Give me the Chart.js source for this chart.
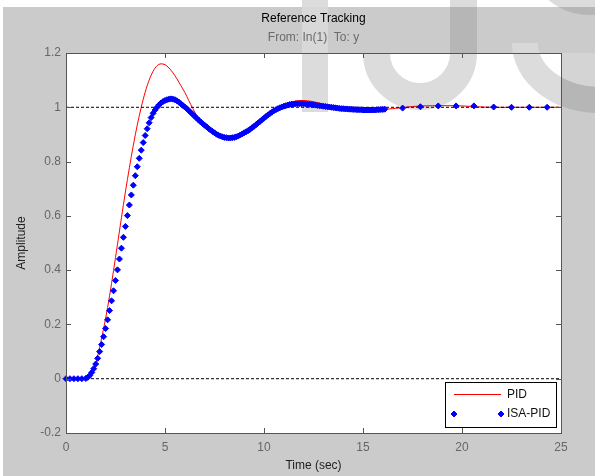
<!DOCTYPE html>
<html><head><meta charset="utf-8">
<script src="https://cdn.jsdelivr.net/npm/chart.js@4/dist/chart.umd.min.js"></script>
<style>html,body{margin:0;padding:0;background:#fff}canvas{display:block}</style>
</head><body>
<canvas id="c" width="595" height="476"></canvas>
<script>
const titleText = "Reference Tracking";
const subtitleText = "From: In(1)  To: y";
const xTitle = "Time (sec)";
const yTitle = "Amplitude";
const seriesNames = ["PID", "ISA-PID"];
const xTicks = [0, 5, 10, 15, 20, 25];
const yTicks = [-0.2, 0, 0.2, 0.4, 0.6, 0.8, 1, 1.2];
const refLevels = [0, 1];

const pidT = [0, 0.5, 1.0, 1.2, 1.4, 1.6, 1.8, 2.0, 2.2, 2.4, 2.6, 2.8, 3.0, 3.2, 3.4, 3.6, 3.8, 4.0, 4.2, 4.4, 4.6, 4.8, 5.0, 5.2, 5.4, 5.6, 5.8, 6.0, 6.2, 6.4, 6.6, 6.8, 7.0, 7.2, 7.4, 7.6, 7.8, 8.0, 8.2, 8.4, 8.6, 8.8, 9.0, 9.2, 9.4, 9.6, 9.8, 10.0, 10.2, 10.4, 10.6, 10.8, 11.0, 11.2, 11.4, 11.6, 11.8, 12.0, 12.2, 12.4, 12.6, 12.8, 13.0, 13.4, 13.8, 14.2, 14.6, 15.0, 15.5, 16.0, 16.5, 17.0, 17.5, 18.0, 19.0, 20.0, 20.5, 21.0, 22.0, 25.0];
const pidY = [0, 0, 0.001, 0.008, 0.035, 0.085, 0.15, 0.222, 0.305, 0.398, 0.495, 0.593, 0.688, 0.777, 0.86, 0.935, 1.0, 1.056, 1.1, 1.133, 1.153, 1.16, 1.157, 1.145, 1.127, 1.105, 1.08, 1.055, 1.025, 0.996, 0.97, 0.948, 0.93, 0.915, 0.903, 0.894, 0.888, 0.885, 0.885, 0.887, 0.891, 0.897, 0.905, 0.914, 0.925, 0.937, 0.949, 0.961, 0.973, 0.984, 0.994, 1.003, 1.01, 1.016, 1.02, 1.023, 1.025, 1.025, 1.024, 1.022, 1.019, 1.015, 1.011, 1.004, 0.998, 0.994, 0.992, 0.991, 0.991, 0.992, 0.995, 0.999, 1.003, 1.005, 1.006, 1.005, 1.003, 1.001, 1.0, 1.0];

const isaT = [0, 0.2, 0.4, 0.6, 0.8, 1.0, 1.1, 1.2, 1.3, 1.4, 1.5, 1.6, 1.7, 1.8, 1.9, 2.0, 2.1, 2.2, 2.3, 2.4, 2.5, 2.6, 2.7, 2.8, 2.9, 3.0, 3.1, 3.2, 3.3, 3.4, 3.5, 3.6, 3.7, 3.8, 3.9, 4.0, 4.1, 4.2, 4.3, 4.4, 4.5, 4.6, 4.7, 4.8, 4.9, 5.0, 5.1, 5.2, 5.3, 5.4, 5.5, 5.6, 5.7, 5.8, 5.9, 6.0, 6.1, 6.2, 6.3, 6.4, 6.5, 6.6, 6.7, 6.8, 6.9, 7.0, 7.1, 7.2, 7.3, 7.4, 7.5, 7.6, 7.7, 7.8, 7.9, 8.0, 8.1, 8.2, 8.3, 8.4, 8.5, 8.6, 8.7, 8.8, 8.9, 9.0, 9.1, 9.2, 9.3, 9.4, 9.5, 9.6, 9.7, 9.8, 9.9, 10.0, 10.1, 10.2, 10.3, 10.4, 10.5, 10.6, 10.7, 10.8, 10.9, 11.0, 11.1, 11.2, 11.3, 11.4, 11.5, 11.6, 11.7, 11.8, 11.9, 12.0, 12.1, 12.2, 12.3, 12.4, 12.5, 12.6, 12.7, 12.8, 12.9, 13.0, 13.1, 13.2, 13.3, 13.4, 13.5, 13.6, 13.7, 13.8, 13.9, 14.0, 14.1, 14.2, 14.3, 14.4, 14.5, 14.6, 14.7, 14.8, 14.9, 15.0, 15.1, 15.2, 15.3, 15.4, 15.5, 15.6, 15.7, 15.8, 15.9, 16.0, 16.1, 17.0, 17.9, 18.8, 19.7, 20.6, 21.6, 22.5, 23.4, 24.3];
const isaY = [0, 0, 0, 0, 0, 0.001, 0.005, 0.012, 0.023, 0.037, 0.054, 0.075, 0.1, 0.126, 0.155, 0.185, 0.217, 0.251, 0.287, 0.324, 0.362, 0.401, 0.441, 0.481, 0.521, 0.561, 0.601, 0.64, 0.677, 0.713, 0.748, 0.781, 0.812, 0.842, 0.87, 0.896, 0.921, 0.943, 0.962, 0.978, 0.99, 1.0, 1.009, 1.016, 1.021, 1.025, 1.028, 1.03, 1.031, 1.03, 1.028, 1.024, 1.019, 1.013, 1.007, 1.001, 0.995, 0.988, 0.981, 0.974, 0.967, 0.96, 0.953, 0.946, 0.94, 0.934, 0.928, 0.922, 0.916, 0.911, 0.906, 0.901, 0.897, 0.894, 0.891, 0.889, 0.888, 0.887, 0.887, 0.888, 0.889, 0.891, 0.894, 0.898, 0.902, 0.906, 0.91, 0.914, 0.919, 0.925, 0.93, 0.936, 0.942, 0.948, 0.954, 0.96, 0.966, 0.972, 0.977, 0.982, 0.987, 0.991, 0.995, 0.998, 1.001, 1.004, 1.006, 1.008, 1.01, 1.011, 1.012, 1.013, 1.013, 1.013, 1.013, 1.013, 1.012, 1.012, 1.011, 1.01, 1.009, 1.008, 1.007, 1.006, 1.005, 1.004, 1.003, 1.002, 1.001, 1.0, 0.999, 0.998, 0.997, 0.996, 0.995, 0.995, 0.994, 0.994, 0.993, 0.993, 0.992, 0.992, 0.991, 0.991, 0.991, 0.99, 0.99, 0.99, 0.99, 0.99, 0.99, 0.99, 0.991, 0.991, 0.992, 0.992, 0.993, 0.997, 1.002, 1.005, 1.005, 1.005, 1.001, 1.0, 1.0, 1.0];

const FONT = "'Liberation Sans', Arial, Helvetica, sans-serif";
const GRAY_BG = '#cbcbcb';

function toXY(ts, ys) { return ts.map((t, i) => ({ x: t, y: ys[i] })); }

function diamond(ctx, x, y, r) {
  ctx.beginPath();
  ctx.moveTo(x, y - r); ctx.lineTo(x + r, y); ctx.lineTo(x, y + r); ctx.lineTo(x - r, y); ctx.closePath();
  ctx.fill(); ctx.stroke();
}

function drawWatermark(ctx, ca) {
  const W = ctx.canvas.width, H = ctx.canvas.height;
  const caW = ca.right - ca.left, caH = ca.bottom - ca.top;
  ctx.save();
  ctx.beginPath();
  ctx.rect(0, 0, W, 7); ctx.rect(0, 0, 3, H); ctx.rect(ca.left, ca.top, caW, caH);
  ctx.clip();
  ctx.fillStyle = '#dcdcdc'; ctx.strokeStyle = '#dcdcdc';
  ctx.fillRect(302, 0, 26, 112);
  ctx.fillRect(450, 0, 27, 54);
  ctx.lineWidth = 27; ctx.beginPath(); ctx.arc(420, 53, 43.5, 0, Math.PI); ctx.stroke();
  ctx.lineWidth = 26; ctx.beginPath(); ctx.ellipse(600, 43, 75, 57, 0, Math.PI / 2, Math.PI); ctx.stroke();
  ctx.beginPath(); ctx.arc(590, -50, 52, 0, 2 * Math.PI); ctx.stroke();
  ctx.restore();
  ctx.save();
  ctx.beginPath();
  ctx.rect(3, 7, W - 3, H - 7); ctx.rect(ca.left, ca.top, caW, caH);
  ctx.clip('evenodd');
  ctx.fillStyle = '#d8d8d8';
  ctx.fillRect(302, 0, 26, 112);
  ctx.fillStyle = '#b6b6b6';
  ctx.fillRect(450, 0, 27, 53);
  ctx.strokeStyle = '#b6b6b6'; ctx.lineWidth = 26;
  ctx.beginPath(); ctx.arc(590, -50, 52, 0, 2 * Math.PI); ctx.stroke();
  ctx.save();
  ctx.beginPath(); ctx.rect(0, 0, W, ca.top); ctx.clip();
  ctx.strokeStyle = '#d8d8d8';
  ctx.beginPath(); ctx.ellipse(600, 43, 75, 57, 0, Math.PI / 2, Math.PI); ctx.stroke();
  ctx.restore();
  ctx.save();
  ctx.beginPath(); ctx.rect(ca.right, ca.top, W - ca.right, H); ctx.clip();
  ctx.fillStyle = '#d4d4d4';
  ctx.beginPath(); ctx.ellipse(600, 43, 62, 44, 0, 0, 2 * Math.PI); ctx.fill();
  ctx.strokeStyle = '#b6b6b6';
  ctx.beginPath(); ctx.ellipse(600, 43, 75, 57, 0, Math.PI / 2, Math.PI); ctx.stroke();
  ctx.restore();
  ctx.restore();
}

const decor = {
  id: 'decor',
  beforeDraw(chart) {
    const ctx = chart.ctx, ca = chart.chartArea;
    const W = chart.width, H = chart.height;
    ctx.save();
    ctx.fillStyle = '#ffffff'; ctx.fillRect(0, 0, W, H);
    ctx.fillStyle = GRAY_BG; ctx.fillRect(3, 7, W - 3, H - 7);
    ctx.fillStyle = '#ffffff'; ctx.fillRect(ca.left, ca.top, ca.right - ca.left, ca.bottom - ca.top);
    drawWatermark(ctx, ca);
    ctx.restore();
  },
  afterDatasetsDraw(chart) {
    const ctx = chart.ctx, ca = chart.chartArea;
    const xs = chart.scales.x, ys = chart.scales.y;
    ctx.save();
    ctx.strokeStyle = '#555555'; ctx.lineWidth = 1;
    ctx.beginPath();
    xTicks.forEach(v => {
      const px = Math.round(xs.getPixelForValue(v)) + 0.5;
      ctx.moveTo(px, ca.bottom); ctx.lineTo(px, ca.bottom - 5);
      ctx.moveTo(px, ca.top); ctx.lineTo(px, ca.top + 5);
    });
    yTicks.forEach(v => {
      const py = Math.round(ys.getPixelForValue(v)) + 0.5;
      ctx.moveTo(ca.left, py); ctx.lineTo(ca.left + 5, py);
      ctx.moveTo(ca.right, py); ctx.lineTo(ca.right - 5, py);
    });
    ctx.stroke();
    ctx.strokeRect(Math.round(ca.left) + 0.5, Math.round(ca.top) + 0.5, Math.round(ca.right - ca.left), Math.round(ca.bottom - ca.top));
    ctx.restore();
  },
  afterDraw(chart) {
    const ctx = chart.ctx, ca = chart.chartArea;
    const cx = (ca.left + ca.right) / 2;
    ctx.save();
    ctx.textAlign = 'center'; ctx.textBaseline = 'middle';
    ctx.font = '12px ' + FONT; ctx.fillStyle = '#000000';
    ctx.fillText(titleText, cx, 19);
    ctx.fillStyle = '#6b6b6b';
    ctx.fillText(subtitleText, cx, 38);
    ctx.fillStyle = '#222222';
    ctx.fillText(xTitle, cx, 466);
    ctx.save();
    ctx.translate(22, (ca.top + ca.bottom) / 2);
    ctx.rotate(-Math.PI / 2);
    ctx.fillText(yTitle, 0, 0);
    ctx.restore();
    const bw = 111, bh = 45;
    const bx = Math.round(ca.right - 5 - bw), by = Math.round(ca.bottom - 6 - bh);
    ctx.fillStyle = '#ffffff'; ctx.fillRect(bx, by, bw, bh);
    ctx.strokeStyle = '#000000'; ctx.lineWidth = 1;
    ctx.strokeRect(bx + 0.5, by + 0.5, bw, bh);
    ctx.strokeStyle = '#ff0000';
    ctx.beginPath(); ctx.moveTo(bx + 9, by + 12.5); ctx.lineTo(bx + 56, by + 12.5); ctx.stroke();
    ctx.fillStyle = '#0000ff'; ctx.strokeStyle = '#0000ff';
    diamond(ctx, bx + 9, by + 32, 3);
    diamond(ctx, bx + 56, by + 32, 3);
    ctx.textAlign = 'left'; ctx.fillStyle = '#111111'; ctx.font = '12px ' + FONT;
    ctx.fillText(seriesNames[0], bx + 62, by + 13);
    ctx.fillText(seriesNames[1], bx + 62, by + 32);
    ctx.restore();
  }
};

const refSets = refLevels.map(l => ({
  label: 'ref' + l,
  data: [{ x: xTicks[0], y: l }, { x: xTicks[xTicks.length - 1], y: l }],
  showLine: true, borderColor: '#000000', borderWidth: 1, borderDash: [3, 2],
  pointRadius: 0, order: 1
}));

new Chart(document.getElementById('c'), {
  type: 'scatter',
  data: {
    datasets: [
      { label: seriesNames[0], data: toXY(pidT, pidY), showLine: true, borderColor: '#ff0000', borderWidth: 1,
        pointRadius: 0, cubicInterpolationMode: 'monotone', order: 2 },
      ...refSets,
      { label: seriesNames[1], data: toXY(isaT, isaY), showLine: false, pointStyle: 'rectRot', pointRadius: 3,
        backgroundColor: '#0000ff', borderColor: '#0000ff', borderWidth: 1, order: 0, clip: false }
    ]
  },
  options: {
    responsive: false, animation: false, devicePixelRatio: 1,
    layout: { padding: { top: 53, right: 34, left: 0, bottom: 0 } },
    plugins: { legend: { display: false }, tooltip: { enabled: false }, title: { display: false } },
    scales: {
      x: {
        type: 'linear', min: xTicks[0], max: xTicks[xTicks.length - 1],
        afterBuildTicks(s) { s.ticks = xTicks.map(v => ({ value: v })); },
        afterFit(s) { s.height = 43; },
        grid: { display: false, drawTicks: false }, border: { display: false },
        ticks: { color: '#666666', font: { family: FONT, size: 12 }, padding: 7, maxRotation: 0, autoSkip: false,
          callback: v => String(v) }
      },
      y: {
        type: 'linear', min: yTicks[0], max: yTicks[yTicks.length - 1],
        afterBuildTicks(s) { s.ticks = yTicks.map(v => ({ value: v })); },
        afterFit(s) { s.width = 66; },
        grid: { display: false, drawTicks: false }, border: { display: false },
        ticks: { color: '#666666', font: { family: FONT, size: 12 }, padding: 5, autoSkip: false,
          callback: v => String(+(+v).toFixed(1)) }
      }
    }
  },
  plugins: [decor]
});
</script>
</body></html>
